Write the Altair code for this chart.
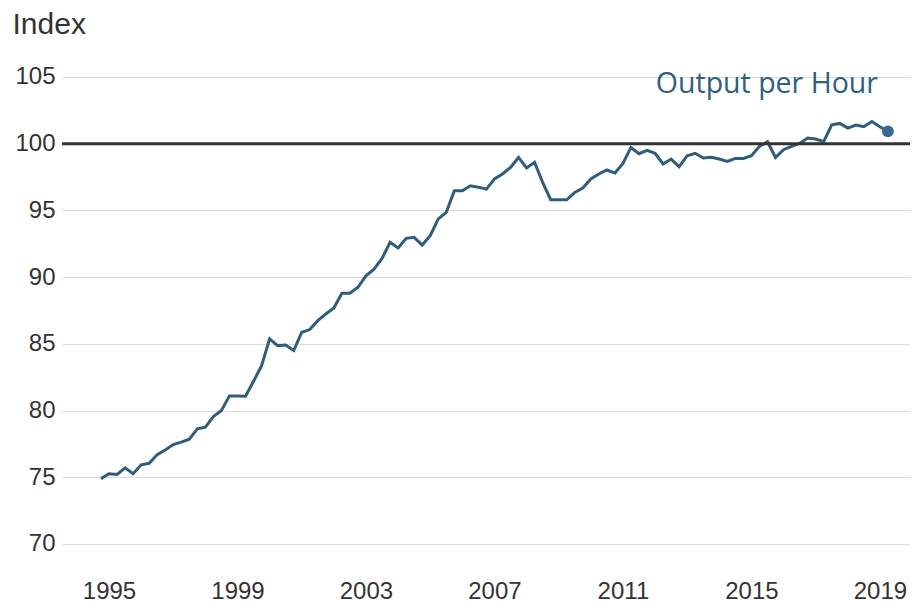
import altair as alt
import pandas as pd

# Quarterly index values, 1995 Q1 .. 2019 Q3
start_year = 1995
values = [
    74.9, 75.26, 75.21, 75.71,
    75.26, 75.93, 76.05, 76.7,
    77.05, 77.45, 77.63, 77.85,
    78.63, 78.75, 79.55, 80.0,
    81.1, 81.1, 81.07, 82.2,
    83.37, 85.37, 84.87, 84.92,
    84.5, 85.87, 86.07, 86.74,
    87.24, 87.69, 88.79, 88.79,
    89.24, 90.1, 90.6, 91.4,
    92.61, 92.19, 92.91, 92.98,
    92.41, 93.11, 94.36, 94.86,
    96.48, 96.48, 96.85, 96.73,
    96.6, 97.36, 97.73, 98.22,
    98.97, 98.18, 98.6, 97.1,
    95.8, 95.8, 95.8, 96.35,
    96.68, 97.36, 97.73, 98.03,
    97.8, 98.52, 99.72, 99.25,
    99.5, 99.28, 98.48, 98.85,
    98.28, 99.1, 99.28, 98.93,
    98.98, 98.85, 98.67, 98.9,
    98.9, 99.1, 99.8, 100.15,
    98.97, 99.55, 99.8, 100.02,
    100.43, 100.35, 100.15, 101.42,
    101.52, 101.17, 101.4, 101.27,
    101.67, 101.27, 100.92,
]
year_ticks = [1995, 1999, 2003, 2007, 2011, 2015, 2019]
y_ticks = [70, 75, 80, 85, 90, 95, 100, 105]
series_label = "Output per Hour"
y_title = "Index"
reference_value = [100]

t = [start_year + i / 4 for i in range(len(values))]
df = pd.DataFrame({"t": t, "value": values})
df["label"] = ""
df.loc[df.index[-1], "label"] = series_label
last = df.iloc[[-1]]
ref_df = pd.DataFrame({"y": reference_value})

line_color = "#315d7d"

x_scale = alt.Scale(domain=[1993.786, 2020.187], nice=False, zero=False)
y_scale = alt.Scale(domain=[68.80, 106.274], nice=False, zero=False)

x_enc = alt.X(
    "t:Q",
    scale=x_scale,
    axis=alt.Axis(
        values=year_ticks, format="d", grid=False, ticks=False, domain=False,
        labelOffset=8, labelPadding=19, labelFontSize=24, labelColor="#333333",
        labelFont="Liberation Sans", title=None,
    ),
)
y_enc = alt.Y(
    "value:Q",
    scale=y_scale,
    axis=alt.Axis(
        values=y_ticks, grid=True, gridColor="#dcdcdf", gridWidth=1,
        ticks=False, domain=False, labelPadding=7, labelFontSize=24,
        labelColor="#333333", labelFont="Liberation Sans",
        title=y_title, titleAngle=0, titleAlign="left", titleBaseline="alphabetic",
        titleX=-50, titleY=-27, titleFontSize=30, titleFont="Liberation Sans",
        titleFontWeight="normal", titleColor="#333333",
    ),
)

line = alt.Chart(df).mark_line(color=line_color, strokeWidth=3).encode(
    x=x_enc, y=y_enc
)

rule = alt.Chart(ref_df).mark_rule(color="#333333", strokeWidth=3).encode(
    y=alt.Y("y:Q", scale=y_scale)
)

dot = alt.Chart(last).mark_circle(color="#3b6992", size=140, opacity=1).encode(
    x=alt.X("t:Q", scale=x_scale),
    y=alt.Y("value:Q", scale=y_scale),
)

label = alt.Chart(last).mark_text(
    align="right", baseline="alphabetic", dx=-10, dy=-38,
    font="Open Sans", fontSize=28.5, color="#2f5f80",
).encode(
    x=alt.X("t:Q", scale=x_scale),
    y=alt.Y("value:Q", scale=y_scale),
    text="label:N",
)

chart = (
    alt.layer(line, rule, dot, label)
    .properties(
        width=848,
        height=500,
        autosize=alt.AutoSizeParams(type="none"),
        padding={"left": 54, "top": 52, "right": 0, "bottom": 42},
        background="white",
    )
    .configure_view(stroke="transparent", strokeWidth=0)
    .configure_axis(domain=False, ticks=False)
)

chart.save("out.html", embed_options={"renderer": "svg", "actions": False})
